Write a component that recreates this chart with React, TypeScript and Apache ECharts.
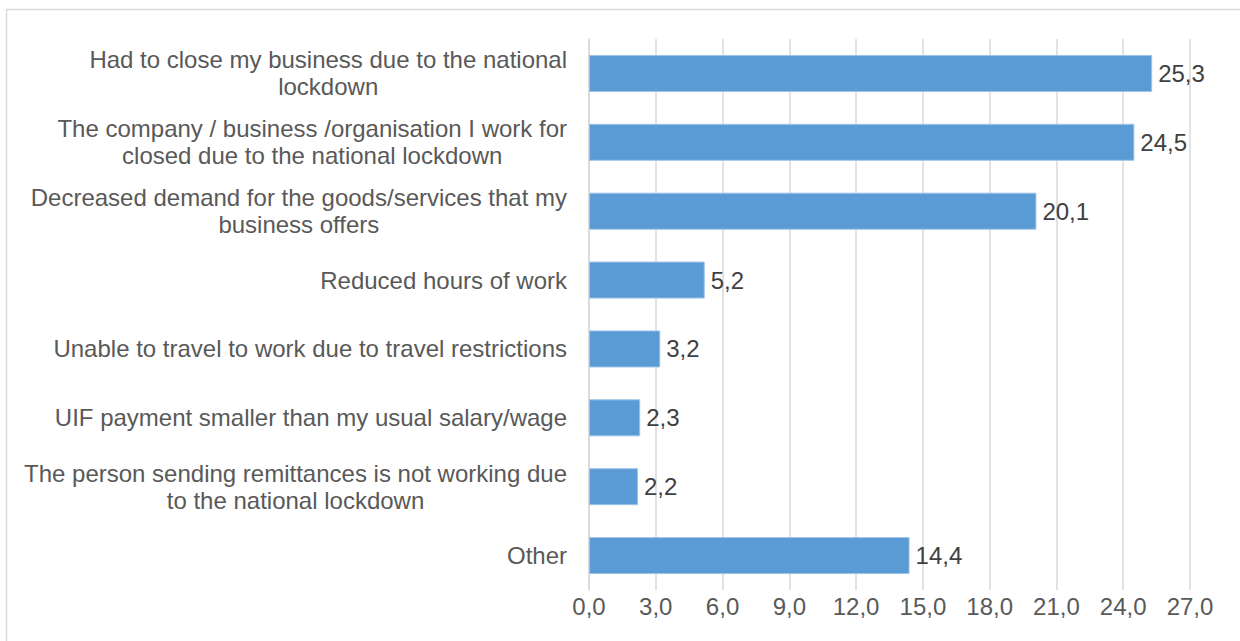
import React, { useEffect, useRef } from "react";
import * as echarts from "echarts";

const categories: string[] = [
  "Had to close my business due to the national\nlockdown",
  "The company / business /organisation I work for\nclosed due to the national lockdown",
  "Decreased demand for the goods/services that my\nbusiness offers",
  "Reduced hours of work",
  "Unable to travel to work due to travel restrictions",
  "UIF payment smaller than my usual salary/wage",
  "The person sending remittances is not working due\nto the national lockdown",
  "Other",
];

const values: number[] = [25.3, 24.5, 20.1, 5.2, 3.2, 2.3, 2.2, 14.4];

const axisMin = 0;
const axisMax = 27;
const axisInterval = 3;

const FONT = "'Liberation Sans', Arial, sans-serif";
const fmt = (v: number) => v.toFixed(1).replace(".", ",");

export default function App() {
  const ref = useRef<HTMLDivElement>(null);
  useEffect(() => {
    if (!ref.current) return;
    const chart = echarts.init(ref.current, null, { renderer: "svg" });
    chart.setOption({
      animation: false,
      backgroundColor: "#ffffff",
      textStyle: { fontFamily: FONT },
      graphic: [
        {
          type: "rect",
          shape: { x: 6.5, y: 9.5, width: 1260, height: 700 },
          style: { fill: "none", stroke: "#d9d9d9", lineWidth: 1.5 },
          silent: true,
        },
      ],
      grid: { left: 589, right: 50, top: 39, bottom: 51, containLabel: false },
      xAxis: {
        type: "value",
        min: axisMin,
        max: axisMax,
        interval: axisInterval,
        axisLine: { show: false },
        axisTick: { show: false },
        splitLine: { show: true, lineStyle: { color: "#d9d9d9", width: 1.5 } },
        axisLabel: {
          formatter: (v: number) => fmt(v),
          color: "#595959",
          fontSize: 24,
          fontFamily: FONT,
          margin: 4,
        },
      },
      yAxis: {
        type: "category",
        data: categories,
        inverse: true,
        axisLine: { show: true, lineStyle: { color: "#d9d9d9", width: 1.5 } },
        axisTick: { show: false },
        axisLabel: {
          margin: 22,
          align: "right",
          color: "#595959",
          fontSize: 24,
          fontFamily: FONT,
          formatter: (v: string) =>
            v
              .split("\n")
              .map((l) => `{c|${l}}`)
              .join("\n"),
          rich: {
            c: {
              align: "center",
              color: "#595959",
              fontSize: 24,
              lineHeight: 27,
              fontFamily: FONT,
            },
          },
        },
      },
      series: [
        {
          type: "bar",
          data: values,
          barWidth: 37,
          itemStyle: { color: "#5b9bd5", borderColor: "#9cc3e6", borderWidth: 1 },
          label: {
            show: true,
            position: "right",
            distance: 6,
            color: "#404040",
            fontSize: 24,
            fontFamily: FONT,
            formatter: (p: any) => fmt(p.value),
          },
        },
      ],
    });
    return () => chart.dispose();
  }, []);
  return (
    <div
      ref={ref}
      style={{ position: "fixed", left: 0, top: 0, width: 1240, height: 641 }}
    />
  );
}
